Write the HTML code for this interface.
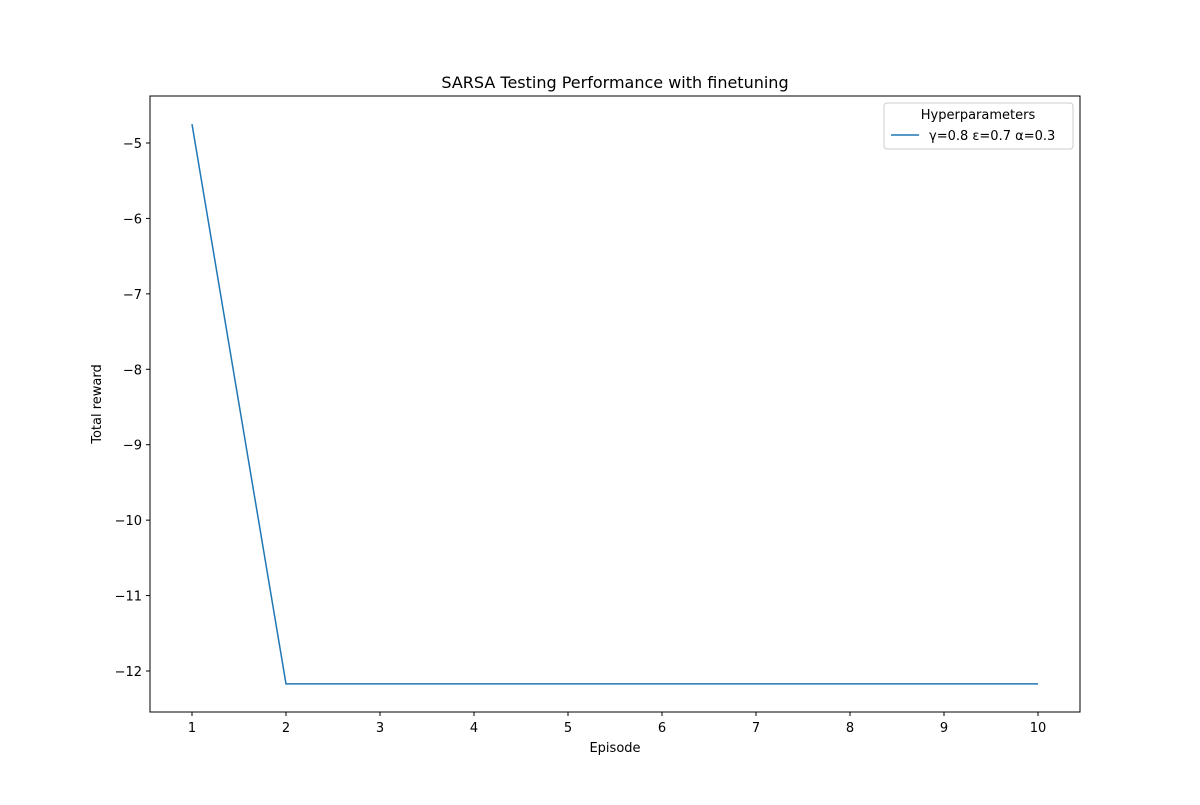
<!DOCTYPE html>
<html><head><meta charset="utf-8"><style>
body{margin:0;background:#fff;font-family:"Liberation Sans","DejaVu Sans",sans-serif;}
</style></head><body>
<svg width="1200" height="800" xmlns="http://www.w3.org/2000/svg" font-family="DejaVu Sans, Liberation Sans, sans-serif">
<rect width="1200" height="800" fill="#fff"/>
<text x="615" y="88" font-size="16" text-anchor="middle">SARSA Testing Performance with finetuning</text>
<g id="xt"></g>
<g id="yt"></g>
<path id="line" fill="none" stroke="#1f77b4" stroke-width="1.5"/>
<rect x="150" y="96" width="930" height="616" fill="none" stroke="#000" stroke-width="1"/>
<text x="615" y="752" font-size="13" text-anchor="middle">Episode</text>
<text transform="translate(101,404) rotate(-90)" font-size="13" text-anchor="middle">Total reward</text>
<g>
<rect x="884" y="103" width="189" height="46" rx="3" fill="#fff" stroke="#ccc"/>
<text x="978" y="119" font-size="13" text-anchor="middle">Hyperparameters</text>
<line x1="891" y1="135" x2="919" y2="135" stroke="#1f77b4" stroke-width="1.5"/>
<text x="929" y="140" font-size="13">γ=0.8 ε=0.7 α=0.3</text>
</g>
</svg>
<script>
const episodes=[1,2,3,4,5,6,7,8,9,10];
const rewards=[-4.75,-12.17,-12.17,-12.17,-12.17,-12.17,-12.17,-12.17,-12.17,-12.17];
const xTicks=[1,2,3,4,5,6,7,8,9,10];
const yTicks=[-5,-6,-7,-8,-9,-10,-11,-12];
const NS="http://www.w3.org/2000/svg";
function xs(v){return 192+(v-1)*94;}
function ys(v){return 143+(-5-v)*75.43;}
const xt=document.getElementById('xt'),yt=document.getElementById('yt');
xTicks.forEach(t=>{
 const l=document.createElementNS(NS,'line');l.setAttribute('x1',xs(t));l.setAttribute('x2',xs(t));l.setAttribute('y1',712);l.setAttribute('y2',716);l.setAttribute('stroke','#000');
 
 
 xt.appendChild(l);
 const s=document.createElementNS(NS,'text');s.setAttribute('x',xs(t));s.setAttribute('y',732);s.setAttribute('font-size','13');s.setAttribute('text-anchor','middle');s.textContent=t;
 
 
 xt.appendChild(s);
});
yTicks.forEach(t=>{
 const l=document.createElementNS(NS,'line');l.setAttribute('x1',146);l.setAttribute('x2',150);l.setAttribute('y1',ys(t));l.setAttribute('y2',ys(t));l.setAttribute('stroke','#000');
 
 
 yt.appendChild(l);
 const s=document.createElementNS(NS,'text');s.setAttribute('x',142);s.setAttribute('y',ys(t)+5);s.setAttribute('font-size','13');s.setAttribute('text-anchor','end');s.textContent='\u2212'+Math.abs(t);
 
 
 yt.appendChild(s);
});
document.getElementById('line').setAttribute('d',episodes.map((e,i)=>(i?'L':'M')+xs(e)+','+ys(rewards[i])).join(' '));
</script>
</body></html>
